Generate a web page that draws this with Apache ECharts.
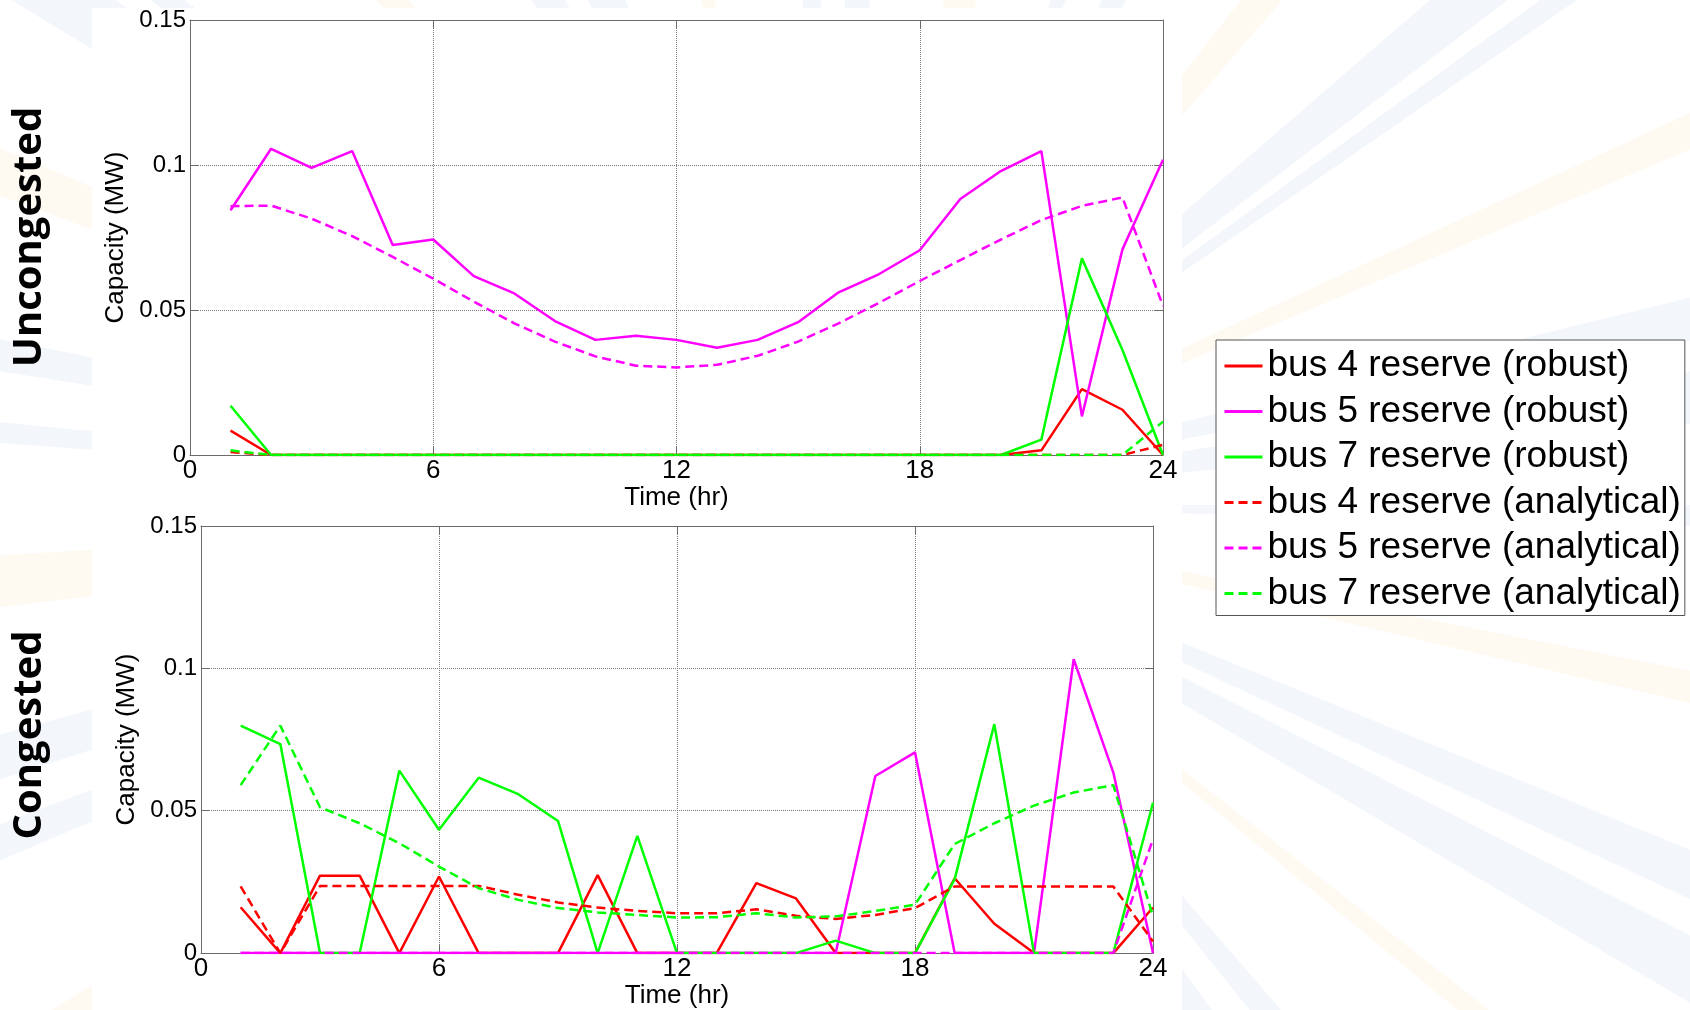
<!DOCTYPE html>
<html>
<head>
<meta charset="utf-8">
<title>Reserve capacity by bus</title>
<script src="https://cdn.jsdelivr.net/npm/echarts@6/dist/echarts.min.js"></script>
<style>
  html, body { margin: 0; padding: 0; background: #ffffff; }
  #chart { width: 1690px; height: 1010px; }
</style>
</head>
<body>
<div id="chart"></div>
<script>
// ---- data -------------------------------------------------------------
const hours = [1, 2, 3, 4, 5, 6, 7, 8, 9, 10, 11, 12, 13, 14, 15, 16, 17, 18, 19, 20, 21, 22, 23, 24];
const xTickLabels = ['0', '6', '12', '18', '24'];
const yTickLabels = ['0', '0.05', '0.1', '0.15'];
const seriesNames = [
  'bus 4 reserve (robust)',
  'bus 5 reserve (robust)',
  'bus 7 reserve (robust)',
  'bus 4 reserve (analytical)',
  'bus 5 reserve (analytical)',
  'bus 7 reserve (analytical)'
];
const panelTitles = ['Uncongested', 'Congested'];

// Uncongested network (MW)
const uncBus4Robust = [0.0084, 0, 0, 0, 0, 0, 0, 0, 0, 0, 0, 0, 0, 0, 0, 0, 0, 0, 0, 0, 0.0016, 0.0227, 0.0156, 0];
const uncBus5Robust = [0.0844, 0.1056, 0.099, 0.1048, 0.0724, 0.0743, 0.0617, 0.0557, 0.0462, 0.0397, 0.0411, 0.0397,
                       0.0370, 0.0397, 0.0458, 0.0561, 0.0624, 0.0706, 0.0883, 0.0979, 0.1048, 0.0133, 0.0709, 0.1018];
const uncBus7Robust = [0.017, 0, 0, 0, 0, 0, 0, 0, 0, 0, 0, 0, 0, 0, 0, 0, 0, 0, 0, 0, 0.0053, 0.0678, 0.0362, 0];
const uncBus4Analytical = [0.001, 0, 0, 0, 0, 0, 0, 0, 0, 0, 0, 0, 0, 0, 0, 0, 0, 0, 0, 0, 0, 0, 0, 0.0035];
const uncBus5Analytical = [0.0858, 0.086, 0.0815, 0.0755, 0.0683, 0.0608, 0.0529, 0.0454, 0.0391, 0.034, 0.0308, 0.0302,
                           0.0311, 0.0342, 0.0391, 0.0454, 0.0525, 0.060, 0.0672, 0.0743, 0.081, 0.0859, 0.0888, 0.0514];
const uncBus7Analytical = [0.0016, 0, 0, 0, 0, 0, 0, 0, 0, 0, 0, 0, 0, 0, 0, 0, 0, 0, 0, 0, 0, 0, 0, 0.0115];

// Congested network (MW)
const conBus4Robust = [0.0161, 0, 0.0272, 0.0272, 0, 0.0269, 0, 0, 0, 0.0274, 0, 0,
                       0, 0.0246, 0.0192, 0, 0, 0, 0.0263, 0.0103, 0, 0, 0, 0.016];
const conBus5Robust = [0, 0, 0, 0, 0, 0, 0, 0, 0, 0, 0, 0, 0, 0, 0, 0, 0.0622, 0.0705, 0, 0, 0, 0.1032, 0.0634, 0];
const conBus7Robust = [0.0799, 0.0734, 0, 0, 0.0641, 0.0433, 0.0616, 0.0558, 0.0464, 0, 0.0412, 0,
                       0, 0, 0, 0.0044, 0, 0, 0.026, 0.0804, 0, 0, 0, 0.0528];
const conBus4Analytical = [0.0234, 0, 0.0236, 0.0236, 0.0236, 0.0236, 0.0236, 0.0205, 0.0178, 0.016, 0.0148, 0.014,
                           0.014, 0.0154, 0.0131, 0.012, 0.0134, 0.0158, 0.0234, 0.0234, 0.0234, 0.0234, 0.0234, 0.0041];
const conBus5Analytical = [0, 0, 0, 0, 0, 0, 0, 0, 0, 0, 0, 0, 0, 0, 0, 0, 0, 0, 0, 0, 0, 0, 0, 0.040];
const conBus7Analytical = [0.059, 0.0799, 0.0512, 0.0456, 0.0386, 0.0304, 0.0228, 0.0187, 0.0158, 0.0143, 0.0134, 0.0125,
                           0.0126, 0.014, 0.0125, 0.0129, 0.0148, 0.017, 0.0383, 0.0456, 0.0518, 0.0564, 0.059, 0.0129];

const panelSeries = [
  [uncBus4Robust, uncBus5Robust, uncBus7Robust, uncBus4Analytical, uncBus5Analytical, uncBus7Analytical],
  [conBus4Robust, conBus5Robust, conBus7Robust, conBus4Analytical, conBus5Analytical, conBus7Analytical]
];

// ---- styling ----------------------------------------------------------
const FONT = '"Liberation Sans", Arial, Helvetica, sans-serif';
const lineColors = ['#ff0000', '#ff00ff', '#00ff00', '#ff0000', '#ff00ff', '#00ff00'];
const lineDashed = [false, false, false, true, true, true];
const AXIS_COLOR = '#6b6b6b';

const gridBoxes = [
  { left: 190, top: 20, width: 973, height: 435, xNameGap: 29, yNameGap: 57, titleY: 237 },
  { left: 201, top: 526, width: 952, height: 428, xNameGap: 27, yNameGap: 55, titleY: 735 }
];

const chart = echarts.init(document.getElementById('chart'), null, { renderer: 'canvas' });

const grid = [], xAxis = [], yAxis = [], series = [];

gridBoxes.forEach((g, gi) => {
  grid.push({ left: g.left, top: g.top, width: g.width, height: g.height, show: true,
              backgroundColor: '#ffffff', borderWidth: 0, containLabel: false });

  const boxLine = { show: true, onZero: false, lineStyle: { color: AXIS_COLOR, width: 1 } };
  const innerTick = { show: true, inside: true, length: 8, lineStyle: { color: AXIS_COLOR, width: 1 } };

  // bottom time axis with labels and vertical grid
  xAxis.push({
    gridIndex: gi, type: 'value', min: 0, max: 24, interval: 6, position: 'bottom',
    name: 'Time (hr)', nameLocation: 'middle', nameGap: g.xNameGap,
    nameTextStyle: { fontFamily: FONT, fontSize: 26, color: '#000' },
    axisLine: boxLine, axisTick: innerTick,
    axisLabel: { fontFamily: FONT, fontSize: 26, color: '#000', margin: 3,
                 formatter: v => xTickLabels[Math.round(v / 6)] },
    splitLine: { show: true, lineStyle: { color: '#7a7a7a', type: 'dotted', width: 1 } }
  });
  // top edge of the box
  xAxis.push({
    gridIndex: gi, type: 'value', min: 0, max: 24, interval: 6, position: 'top',
    axisLine: boxLine, axisTick: innerTick, axisLabel: { show: false }, splitLine: { show: false }
  });
  // left capacity axis with labels and horizontal grid
  yAxis.push({
    gridIndex: gi, type: 'value', min: 0, max: 0.15, interval: 0.05, position: 'left',
    name: 'Capacity (MW)', nameLocation: 'middle', nameGap: g.yNameGap, nameRotate: 90,
    nameTextStyle: { fontFamily: FONT, fontSize: 26, color: '#000' },
    axisLine: boxLine, axisTick: innerTick,
    axisLabel: { fontFamily: FONT, fontSize: 24, color: '#000', margin: 4,
                 formatter: v => yTickLabels[Math.round(v / 0.05)] },
    splitLine: { show: true, lineStyle: { color: '#7a7a7a', type: 'dotted', width: 1 } }
  });
  // right edge of the box
  yAxis.push({
    gridIndex: gi, type: 'value', min: 0, max: 0.15, interval: 0.05, position: 'right',
    axisLine: boxLine, axisTick: innerTick, axisLabel: { show: false }, splitLine: { show: false }
  });

  panelSeries[gi].forEach((values, si) => {
    series.push({
      name: seriesNames[si],
      type: 'line',
      xAxisIndex: gi * 2,
      yAxisIndex: gi * 2,
      data: hours.map((h, i) => [h, values[i]]),
      symbol: 'none',
      smooth: false,
      animation: false,
      z: 2 + si,
      color: lineColors[si],
      lineStyle: { color: lineColors[si], width: 2.5, type: lineDashed[si] ? [9, 5] : 'solid' }
    });
  });
});

// faint light rays of the slide background
const rays = [];
const cx = 845, cy = 505, R = 1600;
for (let k = 0; k < 40; k++) {
  const a0 = (k * 9 + (k % 3) * 2.1) * Math.PI / 180;
  const w = (1.4 + (k % 4) * 0.7) * Math.PI / 180;
  const warm = k % 3 === 1;
  rays.push({
    type: 'polygon', silent: true, z: -30,
    shape: { points: [[cx, cy], [cx + R * Math.cos(a0), cy + R * Math.sin(a0)],
                      [cx + R * Math.cos(a0 + w), cy + R * Math.sin(a0 + w)]] },
    style: { fill: warm ? 'rgba(252,240,212,0.3)' : 'rgba(214,225,241,0.3)' }
  });
}

const graphic = rays.concat([
  { type: 'rect', silent: true, z: -20, shape: { x: 92, y: 8, width: 1090, height: 1002 }, style: { fill: '#ffffff' } }
]).concat(gridBoxes.map((g, gi) => ({
  type: 'text', silent: true, z: 10, x: 30, y: g.titleY, rotation: Math.PI / 2,
  style: { text: panelTitles[gi], fontFamily: '"Open Sans", sans-serif', fontWeight: 'bold',
           fontSize: 40, fill: '#000', align: 'center', verticalAlign: 'middle' }
})));

chart.setOption({
  backgroundColor: '#ffffff',
  animation: false,
  grid, xAxis, yAxis, series, graphic,
  legend: {
    orient: 'vertical', left: 1216, top: 340,
    data: seriesNames,
    selectedMode: false,
    backgroundColor: '#ffffff', borderColor: '#555555', borderWidth: 1,
    padding: [6, 4, 2, 7],
    itemWidth: 38, itemHeight: 16, itemGap: 5.5,
    itemStyle: { opacity: 0 },
    lineStyle: { width: 3 },
    textStyle: { fontFamily: FONT, fontSize: 37, lineHeight: 40, color: '#000' }
  }
});
</script>
</body>
</html>
